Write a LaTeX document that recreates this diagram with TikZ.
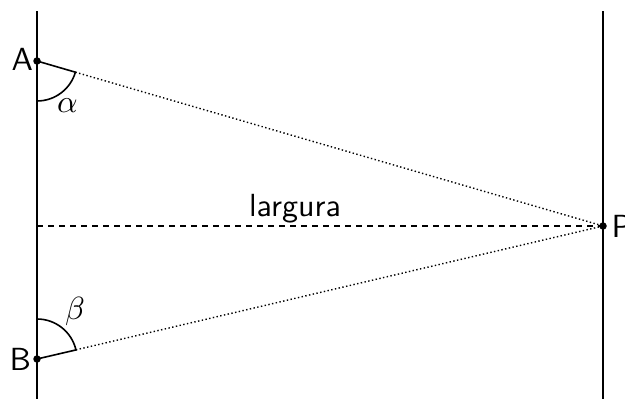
\documentclass[tikz,border=0pt]{standalone}
\usetikzlibrary{calc}
\begin{document}
\begin{tikzpicture}[x=1pt,y=1pt,
  wall/.style={line width=1.6pt},
  angarc/.style={line width=1.6pt},
  sight/.style={line width=1.4pt, dash pattern=on 1.4pt off 2.4pt},
  mid/.style={line width=1.3pt, dash pattern=on 5.5pt off 5.5pt},
  lbl/.style={inner sep=0pt, scale=3.2, font=\sffamily},
  greek/.style={inner sep=0pt, scale=3.2},
  pt/.style={circle, fill=black, inner sep=0pt, minimum size=7.5pt}]
\useasboundingbox (0,0) rectangle (625,399);
% walls
\coordinate (LT) at (37,388);
\coordinate (LB) at (37,0);
\coordinate (RT) at (603,388);
\coordinate (RB) at (603,0);
\draw[wall] (LB) -- (LT);
\draw[wall] (RB) -- (RT);
% points
\coordinate (A) at (37,338);
\coordinate (B) at (37,40);
\coordinate (P) at (603,173);
\coordinate (M) at (37,173);
% width line
\draw[mid] (M) -- (P);
% sight lines
\draw[sight] ($(A)!40pt!(P)$) -- (P);
\draw[sight] ($(B)!40pt!(P)$) -- (P);
% angle arcs
\draw[angarc] ($(A)+(0,-40)$) arc[start angle=-90, end angle=-16.25, radius=40] -- (A);
\draw[angarc] ($(B)+(0,40)$) arc[start angle=90, end angle=13.1, radius=40] -- (B);
% dots
\node[pt] (dA) at (A) {};
\node[pt] (dB) at (B) {};
\node[pt] (dP) at (P) {};
% labels
\node[lbl, anchor=east] (tA) at (33.5,340) {A};
\node[lbl, anchor=east] (tB) at (31.5,40) {B};
\node[lbl, anchor=west] (tP) at (611,173) {P};
\node[lbl, anchor=base] (tl) at (295,182.3) {largura};
\node[greek] (ta) at (67.5,293) {$\alpha$};
\node[greek] (tb) at (75,87) {$\beta$};
\end{tikzpicture}
\end{document}
